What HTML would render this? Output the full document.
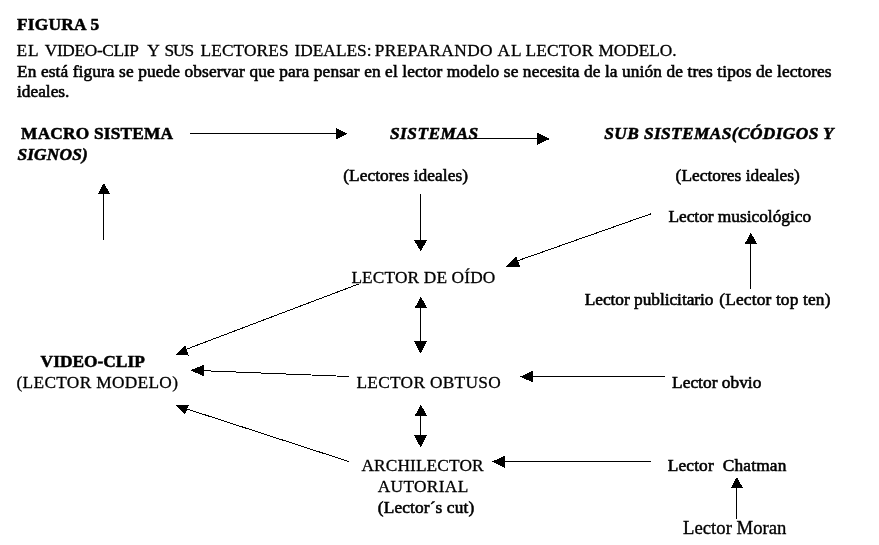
<!DOCTYPE html>
<html><head><meta charset="utf-8">
<style>
html,body{margin:0;padding:0;background:#fff;}
body{width:879px;height:545px;position:relative;overflow:hidden;font-family:"Liberation Serif",serif;font-size:17.33px;color:#000;}
.t{position:absolute;white-space:pre;line-height:20px;height:20px;}
.b{font-weight:bold;}
.lo{-webkit-text-stroke:0.58px #000;}
.mo{-webkit-text-stroke:0.35px #000;}
.up{-webkit-text-stroke:0.3px #000;}
.b.up{-webkit-text-stroke:0.55px #000;}
.i{font-style:italic;}
svg{position:absolute;left:0;top:0;}
#w{position:absolute;left:0;top:0;width:879px;height:545px;will-change:transform;}
</style></head><body>
<div id="w">
<span class="t b up" style="left:17.00px;top:15px;letter-spacing:0.257px">FIGURA 5</span>
<span class="t up" style="left:16.40px;top:41px;letter-spacing:1.000px">EL</span>
<span class="t up" style="left:44.80px;top:41px;letter-spacing:-0.356px">VIDEO-CLIP</span>
<span class="t up" style="left:147.20px;top:41px;letter-spacing:1.000px">Y</span>
<span class="t up" style="left:164.40px;top:41px;letter-spacing:-1.000px">SUS</span>
<span class="t up" style="left:200.50px;top:41px;letter-spacing:0.114px">LECTORES</span>
<span class="t up" style="left:294.50px;top:41px;letter-spacing:0.000px">IDEALES:</span>
<span class="t up" style="left:374.70px;top:41px;letter-spacing:0.444px">PREPARANDO</span>
<span class="t up" style="left:497.50px;top:41px;letter-spacing:1.000px">AL</span>
<span class="t up" style="left:525.60px;top:41px;letter-spacing:0.120px">LECTOR</span>
<span class="t up" style="left:598.40px;top:41px;letter-spacing:-0.033px">MODELO.</span>
<span class="t lo" style="left:17.00px;top:62px;letter-spacing:0.103px">En está figura se puede observar que para pensar en el lector modelo se necesita de la unión de tres tipos de lectores</span>
<span class="t lo" style="left:17.00px;top:82px;letter-spacing:0.000px">ideales.</span>
<span class="t b up" style="left:21.10px;top:124px;letter-spacing:0.183px">MACRO SISTEMA</span>
<span class="t b i up" style="left:17.40px;top:145px;letter-spacing:0.167px">SIGNOS)</span>
<span class="t b i up" style="left:390.00px;top:124px;letter-spacing:0.486px">SISTEMAS</span>
<span class="t b i up" style="left:604.30px;top:124px;letter-spacing:0.390px">SUB SISTEMAS(CÓDIGOS Y</span>
<span class="t lo" style="left:343.20px;top:166px;letter-spacing:0.071px">(Lectores ideales)</span>
<span class="t lo" style="left:675.60px;top:166px;letter-spacing:0.035px">(Lectores ideales)</span>
<span class="t lo" style="left:668.40px;top:207px;letter-spacing:-0.011px">Lector musicológico</span>
<span class="t up" style="left:351.40px;top:268px;letter-spacing:0.138px">LECTOR DE OÍDO</span>
<span class="t lo" style="left:584.70px;top:290px;letter-spacing:-0.033px">Lector publicitario</span>
<span class="t lo" style="left:719.30px;top:290px;letter-spacing:0.160px">(Lector top ten)</span>
<span class="t b up" style="left:40.60px;top:352px;letter-spacing:0.022px">VIDEO-CLIP</span>
<span class="t up" style="left:16.50px;top:373px;letter-spacing:0.314px">(LECTOR MODELO)</span>
<span class="t up" style="left:356.40px;top:373px;letter-spacing:0.300px">LECTOR OBTUSO</span>
<span class="t lo" style="left:672.10px;top:373px;letter-spacing:0.018px">Lector obvio</span>
<span class="t up" style="left:361.40px;top:456px;letter-spacing:0.120px">ARCHILECTOR</span>
<span class="t up" style="left:377.80px;top:477px;letter-spacing:0.314px">AUTORIAL</span>
<span class="t lo" style="left:377.80px;top:498px;letter-spacing:0.123px">(Lector´s cut)</span>
<span class="t lo" style="left:667.70px;top:456px;letter-spacing:0.157px">Lector  Chatman</span>
<span class="t mo" style="font-size:18.67px;left:683.10px;top:518px;letter-spacing:0.018px">Lector Moran</span>
</div>
<svg width="879" height="545" viewBox="0 0 879 545" shape-rendering="crispEdges">
<line x1="190.00" y1="133.50" x2="340.00" y2="133.50" stroke="#000" stroke-width="1"/>
<polygon points="347.80,133.80 335.80,127.80 335.80,139.80" fill="#000"/>
<line x1="453.00" y1="138.50" x2="540.00" y2="138.50" stroke="#000" stroke-width="1"/>
<polygon points="550.00,138.80 537.20,132.65 537.20,144.95" fill="#000"/>
<line x1="103.50" y1="239.70" x2="103.50" y2="190.00" stroke="#000" stroke-width="1"/>
<polygon points="103.90,182.90 97.70,194.20 110.10,194.20" fill="#000"/>
<line x1="420.50" y1="194.10" x2="420.50" y2="243.00" stroke="#000" stroke-width="1"/>
<polygon points="420.60,251.30 414.00,240.00 427.20,240.00" fill="#000"/>
<line x1="650.80" y1="213.90" x2="518.00" y2="260.60" stroke="#000" stroke-width="1"/>
<polygon points="506.00,266.50 516.20,256.30 520.10,266.50" fill="#000"/>
<line x1="750.50" y1="288.80" x2="750.50" y2="240.00" stroke="#000" stroke-width="1"/>
<polygon points="750.90,232.70 744.60,244.10 757.20,244.10" fill="#000"/>
<line x1="420.50" y1="304.00" x2="420.50" y2="345.00" stroke="#000" stroke-width="1"/>
<polygon points="420.90,296.80 414.60,307.90 427.20,307.90" fill="#000"/>
<polygon points="420.60,353.60 414.00,341.10 427.20,341.10" fill="#000"/>
<line x1="359.50" y1="283.70" x2="187.00" y2="349.00" stroke="#000" stroke-width="1"/>
<polygon points="175.70,354.50 185.10,345.20 188.90,355.60" fill="#000"/>
<line x1="349.00" y1="376.50" x2="203.00" y2="370.70" stroke="#000" stroke-width="1"/>
<polygon points="190.60,370.20 203.50,365.00 203.50,376.30" fill="#000"/>
<line x1="664.70" y1="376.50" x2="530.00" y2="376.50" stroke="#000" stroke-width="1"/>
<polygon points="520.20,376.60 533.20,370.60 533.20,382.60" fill="#000"/>
<line x1="420.50" y1="412.00" x2="420.50" y2="440.00" stroke="#000" stroke-width="1"/>
<polygon points="420.90,404.70 414.60,416.10 427.20,416.10" fill="#000"/>
<polygon points="420.60,447.50 414.00,435.20 427.20,435.20" fill="#000"/>
<line x1="349.00" y1="461.60" x2="187.00" y2="409.00" stroke="#000" stroke-width="1"/>
<polygon points="175.70,404.70 188.90,404.70 185.10,414.30" fill="#000"/>
<line x1="650.80" y1="461.50" x2="500.00" y2="461.50" stroke="#000" stroke-width="1"/>
<polygon points="491.90,461.70 504.80,455.70 504.80,467.70" fill="#000"/>
<line x1="736.50" y1="518.80" x2="736.50" y2="484.00" stroke="#000" stroke-width="1"/>
<polygon points="736.90,476.90 730.80,488.20 743.00,488.20" fill="#000"/>
</svg>
</body></html>
